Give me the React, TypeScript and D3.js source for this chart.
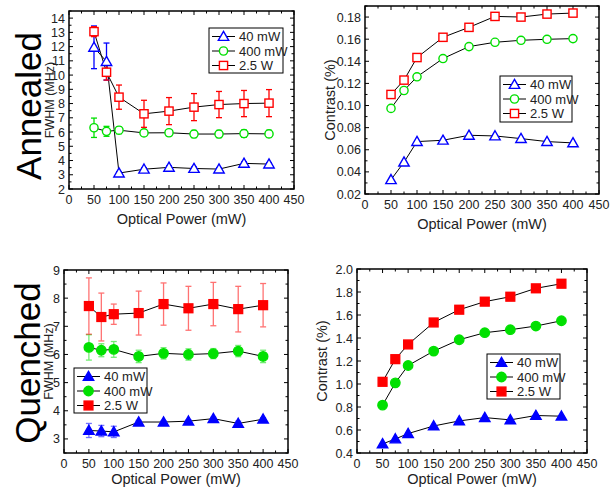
import React from "react";
import * as d3 from "d3";

const xPower = [50, 75, 100, 150, 200, 250, 300, 350, 400];
const seriesNames = ["40 mW", "400 mW", "2.5 W"];
const xTicks = [0, 50, 100, 150, 200, 250, 300, 350, 400, 450];

const annealedFwhm40 = [11.95, 10.95, 3.12, 3.39, 3.52, 3.44, 3.4, 3.8, 3.75];
const annealedFwhm40Err = [1.5, 1.3, 0.1, 0.1, 0.1, 0.1, 0.1, 0.1, 0.1];
const annealedFwhm400 = [6.3, 6.05, 6.13, 5.94, 5.95, 5.86, 5.86, 5.89, 5.87];
const annealedFwhm400Err = [0.68, 0.35, 0.25, 0.2, 0.2, 0.25, 0.25, 0.25, 0.25];
const annealedFwhm25 = [13.05, 10.2, 8.45, 7.28, 7.47, 7.75, 7.93, 8.0, 8.03];
const annealedFwhm25Err = [0.35, 0.55, 0.85, 0.95, 0.95, 0.95, 0.92, 0.92, 0.95];

const annealedContrast40 = [0.0329, 0.0488, 0.0674, 0.0686, 0.0731, 0.0725, 0.0701, 0.0674, 0.0662];
const annealedContrast400 = [0.0974, 0.1136, 0.126, 0.1425, 0.1533, 0.1572, 0.159, 0.1599, 0.1605];
const annealedContrast25 = [0.11, 0.123, 0.1434, 0.1617, 0.1707, 0.1806, 0.18, 0.1827, 0.1836];

const quenchedFwhm40 = [3.3, 3.28, 3.25, 3.6, 3.6, 3.63, 3.72, 3.55, 3.7];
const quenchedFwhm40Err = [0.25, 0.2, 0.2, 0.06, 0.05, 0.05, 0.05, 0.08, 0.05];
const quenchedFwhm400 = [6.25, 6.15, 6.18, 5.93, 6.04, 6.0, 6.03, 6.12, 5.93];
const quenchedFwhm400Err = [0.45, 0.23, 0.28, 0.22, 0.2, 0.2, 0.18, 0.2, 0.22];
const quenchedFwhm25 = [7.72, 7.33, 7.43, 7.47, 7.79, 7.64, 7.79, 7.61, 7.75];
const quenchedFwhm25Err = [1.0, 0.85, 0.36, 0.78, 0.75, 0.78, 0.77, 0.81, 0.77];

const quenchedContrast40 = [0.479, 0.522, 0.569, 0.635, 0.679, 0.708, 0.688, 0.726, 0.72];
const quenchedContrast400 = [0.816, 1.01, 1.161, 1.286, 1.385, 1.446, 1.472, 1.504, 1.55];
const quenchedContrast25 = [1.019, 1.216, 1.344, 1.535, 1.646, 1.716, 1.759, 1.832, 1.872];

const colors = ["#0000ff", "#00e000", "#ff0000"];
const shapes = ["tri", "circ", "sq"];
const FONT = "Arial, 'Liberation Sans', Helvetica, sans-serif";

type Panel = {
  box: [number, number, number, number]; // left, right, top, bottom
  yDomain: [number, number];
  yTicks: number[];
  yFmt: (v: number) => string;
  yLabel: string;
  yLabelX: number;
  yLabelSize: number;
  xLabelY: number;
  series: number[][];
  errors?: number[][];
  filled: boolean;
  errOpacity: number;
  legend: [number, number, number, number]; // x, y, w, h
};

function Marker({ shape, x, y, color, filled }: any) {
  const fill = filled ? color : "white";
  const sw = 1.4;
  if (shape === "tri") {
    const s = 5.2;
    const p = `M${x},${y - s} L${x + s},${y + s * 0.75} L${x - s},${y + s * 0.75} Z`;
    return <path d={p} fill={fill} stroke={color} strokeWidth={sw} />;
  }
  if (shape === "circ") {
    return <circle cx={x} cy={y} r={filled ? 4.7 : 4.1} fill={fill} stroke={color} strokeWidth={sw} />;
  }
  const s = filled ? 4.4 : 4.1;
  return <rect x={x - s} y={y - s} width={2 * s} height={2 * s} fill={fill} stroke={color} strokeWidth={sw} />;
}

function PanelView({ p }: { p: Panel }) {
  const [l, r, t, b] = p.box;
  const x = d3.scaleLinear().domain([0, 450]).range([l, r]);
  const y = d3.scaleLinear().domain(p.yDomain).range([b, t]);
  const line = d3
    .line<number>()
    .x((_, i) => x(xPower[i]))
    .y((d) => y(d));
  const step = p.yTicks[1] - p.yTicks[0];
  const yMinor: number[] = [];
  for (let v = p.yTicks[0] - step / 2; v <= p.yDomain[1] + 1e-9; v += step / 2) {
    if (v >= p.yDomain[0] - 1e-9) yMinor.push(v);
  }
  const xMinor = d3.range(0, 451, 25);
  const [lx, ly, lw, lh] = p.legend;
  return (
    <g>
      {xMinor.map((v) => {
        const major = v % 50 === 0;
        const len = major ? 4 : 2.5;
        return (
          <g key={"xt" + v}>
            <line x1={x(v)} x2={x(v)} y1={b} y2={b - len} stroke="black" strokeWidth={1} />
            <line x1={x(v)} x2={x(v)} y1={t} y2={t + len} stroke="black" strokeWidth={1} />
          </g>
        );
      })}
      {yMinor.map((v, i) => {
        const major = p.yTicks.some((tv) => Math.abs(tv - v) < 1e-9);
        const len = major ? 4 : 2.5;
        return (
          <g key={"yt" + i}>
            <line x1={l} x2={l + len} y1={y(v)} y2={y(v)} stroke="black" strokeWidth={1} />
            <line x1={r} x2={r - len} y1={y(v)} y2={y(v)} stroke="black" strokeWidth={1} />
          </g>
        );
      })}
      {xTicks.map((v) => (
        <text key={"xl" + v} x={x(v)} y={b + 15} textAnchor="middle" fontSize={12.5} fill="#222" fontFamily={FONT}>
          {v}
        </text>
      ))}
      {p.yTicks.map((v) => (
        <text key={"yl" + v} x={l - 4} y={y(v) + 4.5} textAnchor="end" fontSize={12.5} fill="#222" fontFamily={FONT}>
          {p.yFmt(v)}
        </text>
      ))}
      <text x={(l + r) / 2} y={p.xLabelY} textAnchor="middle" fontSize={14.5} fill="#222" fontFamily={FONT}>
        Optical Power (mW)
      </text>
      <text
        transform={`translate(${p.yLabelX},${(t + b) / 2}) rotate(-90)`}
        textAnchor="middle"
        fontSize={p.yLabelSize}
        fill="#222"
        fontFamily={FONT}
      >
        {p.yLabel}
      </text>
      {p.series.map((s, si) => (
        <path key={"ln" + si} d={line(s) || ""} fill="none" stroke="black" strokeWidth={1} />
      ))}
      {p.errors &&
        p.errors.map((es, si) =>
          es.map((e, i) => {
            const cx = x(xPower[i]);
            const y1 = y(p.series[si][i] + e);
            const y2 = y(p.series[si][i] - e);
            return (
              <g key={"eb" + si + "-" + i} stroke={colors[si]} strokeWidth={1.3} opacity={p.errOpacity}>
                <line x1={cx} x2={cx} y1={y1} y2={y2} />
                <line x1={cx - 3} x2={cx + 3} y1={y1} y2={y1} />
                <line x1={cx - 3} x2={cx + 3} y1={y2} y2={y2} />
              </g>
            );
          })
        )}
      {p.series.map((s, si) =>
        s.map((v, i) => (
          <Marker key={"m" + si + "-" + i} shape={shapes[si]} x={x(xPower[i])} y={y(v)} color={colors[si]} filled={p.filled} />
        ))
      )}
      <rect x={l} y={t} width={r - l} height={b - t} fill="none" stroke="black" strokeWidth={1.5} />
      <rect x={lx} y={ly} width={lw} height={lh} fill="white" stroke="black" strokeWidth={1} />
      {seriesNames.map((n, i) => {
        const ry = ly + 8.5 + i * 14.5;
        return (
          <g key={"lg" + i}>
            <line x1={lx + 3} x2={lx + 26} y1={ry} y2={ry} stroke="black" strokeWidth={1} />
            <Marker shape={shapes[i]} x={lx + 14.5} y={ry} color={colors[i]} filled={p.filled} />
            <text x={lx + 30} y={ry + 4.5} fontSize={13} fill="#222" fontFamily={FONT}>
              {n}
            </text>
          </g>
        );
      })}
    </g>
  );
}

const panels: Panel[] = [
  {
    box: [69, 294, 11, 189],
    yDomain: [2, 14.5],
    yTicks: d3.range(2, 14.01, 1),
    yFmt: (v) => String(v),
    yLabel: "FWHM (MHz)",
    yLabelX: 54,
    yLabelSize: 12.5,
    xLabelY: 224,
    series: [annealedFwhm40, annealedFwhm400, annealedFwhm25],
    errors: [annealedFwhm40Err, annealedFwhm400Err, annealedFwhm25Err],
    filled: false,
    errOpacity: 1,
    legend: [209, 28, 74, 45],
  },
  {
    box: [365, 599, 6, 194],
    yDomain: [0.02, 0.19],
    yTicks: d3.range(0.02, 0.1801, 0.02),
    yFmt: (v) => v.toFixed(2),
    yLabel: "Contrast (%)",
    yLabelX: 335,
    yLabelSize: 14.5,
    xLabelY: 229,
    series: [annealedContrast40, annealedContrast400, annealedContrast25],
    filled: false,
    errOpacity: 1,
    legend: [500, 76, 72, 46],
  },
  {
    box: [64, 288, 270, 453],
    yDomain: [2.5, 9],
    yTicks: d3.range(3, 9.01, 1),
    yFmt: (v) => String(v),
    yLabel: "FWHM (MHz)",
    yLabelX: 53,
    yLabelSize: 12.5,
    xLabelY: 484,
    series: [quenchedFwhm40, quenchedFwhm400, quenchedFwhm25],
    errors: [quenchedFwhm40Err, quenchedFwhm400Err, quenchedFwhm25Err],
    filled: true,
    errOpacity: 0.55,
    legend: [74, 368, 73, 45],
  },
  {
    box: [357, 587, 269, 453],
    yDomain: [0.4, 2.0],
    yTicks: d3.range(0.4, 2.001, 0.2),
    yFmt: (v) => v.toFixed(1),
    yLabel: "Contrast (%)",
    yLabelX: 327,
    yLabelSize: 14.5,
    xLabelY: 484,
    series: [quenchedContrast40, quenchedContrast400, quenchedContrast25],
    filled: true,
    errOpacity: 1,
    legend: [487, 354, 73, 45],
  },
];

export default function App() {
  return (
    <svg
      width={615}
      height={487}
      style={{ position: "absolute", left: 0, top: 0, background: "white" }}
    >
      <rect width={615} height={487} fill="white" />
      {panels.map((p, i) => (
        <PanelView key={i} p={p} />
      ))}
      <text transform="translate(41,106) rotate(-90)" textAnchor="middle" fontSize={35} fill="black" fontFamily={FONT}>
        Annealed
      </text>
      <text transform="translate(40,363) rotate(-90)" textAnchor="middle" fontSize={35} fill="black" fontFamily={FONT}>
        Quenched
      </text>
    </svg>
  );
}
